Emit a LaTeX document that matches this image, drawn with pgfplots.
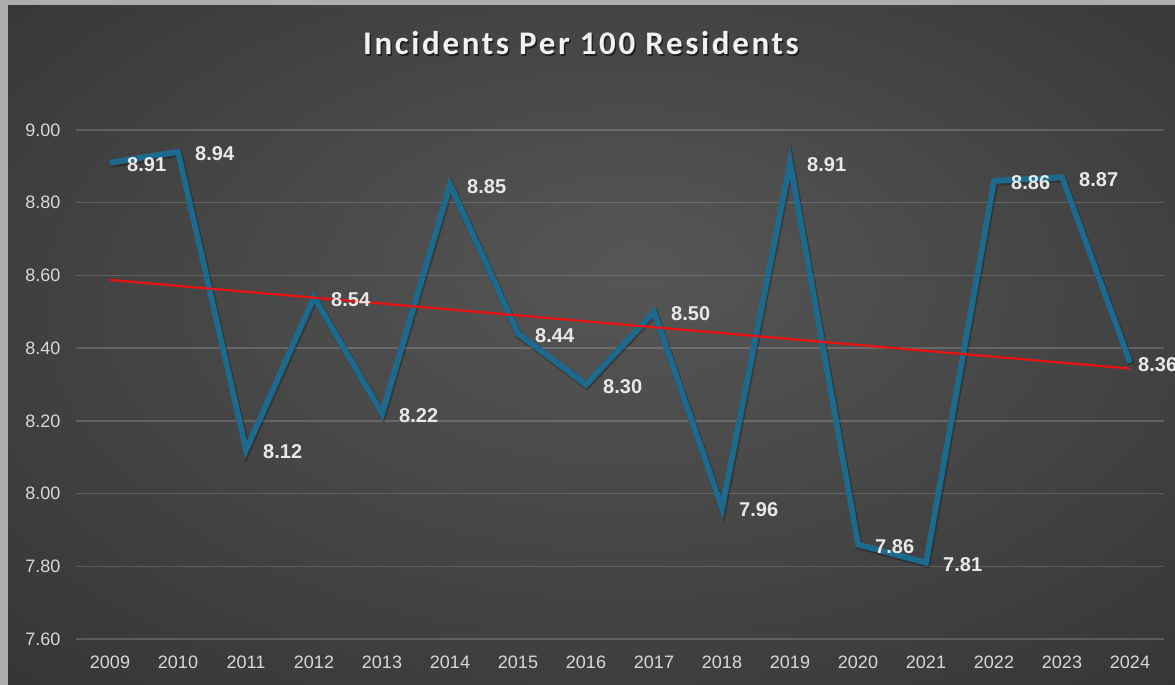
\documentclass[border=0pt]{standalone}
\usepackage{fontspec}
\setmainfont{Liberation Sans}
\newfontfamily\titlefont[LetterSpace=8]{Carlito}
\usepackage{pgfplots}
\pgfplotsset{compat=1.18}
\definecolor{bgdark}{HTML}{2A2A2A}
\definecolor{bglight}{HTML}{565656}
\definecolor{framegray}{HTML}{ADADAD}
\definecolor{lineblue}{HTML}{1C6A8E}
\definecolor{txt}{HTML}{D9D9D9}
\definecolor{lblcol}{HTML}{E8E8E8}
\definecolor{trend}{HTML}{EE1111}
\pgfdeclareradialshading{bgshade}{\pgfpoint{2bp}{6bp}}{color(0bp)=(bglight); color(50bp)=(bgdark)}
\pgfplotstableread{
x y
0 8.91
1 8.94
2 8.12
3 8.54
4 8.22
5 8.85
6 8.44
7 8.30
8 8.50
9 7.96
10 8.91
11 7.86
12 7.81
13 8.86
14 8.87
15 8.36
}\datatable
\pgfplotstableread{
x y
0 8.91
1 8.94
2 8.12
3 8.54
4 8.22
5 8.85
6 8.44
7 8.30
8 8.50
9 7.96
10 8.91
11 7.86
12 7.81
13 8.86
14 8.87
}\labeltable
\pgfplotstableread{
x y
15 8.36
}\lasttable
\begin{document}
\begin{tikzpicture}[x=1pt,y=1pt]
\useasboundingbox (0,0) rectangle (1175,685);
\clip (0,0) rectangle (1175,685);
\fill[framegray] (0,0) rectangle (1175,685);
\shade[shading=bgshade] (8,0) rectangle (1175,679);
\node[anchor=base, text=black, opacity=0.55] at (582.5,628.5) {\titlefont\fontsize{33}{36}\selectfont\bfseries Incidents Per 100 Residents};
\node[anchor=base, text=white!95!black] at (581,630) {\titlefont\fontsize{33}{36}\selectfont\bfseries Incidents Per 100 Residents};
\begin{axis}[
  at={(76pt,46pt)}, anchor=south west,
  width=1088pt, height=509pt, scale only axis,
  xmin=-0.5, xmax=15.5, ymin=7.6, ymax=9.0,
  axis line style={draw=none},
  major tick length=0pt,
  ytick={7.6,7.8,8.0,8.2,8.4,8.6,8.8,9.0},
  xtick={0,1,...,15},
  xticklabels={2009,2010,2011,2012,2013,2014,2015,2016,2017,2018,2019,2020,2021,2022,2023,2024},
  /pgf/number format/assume math mode=true,
  yticklabel={\pgfmathprintnumber[fixed,fixed zerofill,precision=2]{\tick}},
  tick label style={font=\fontsize{18}{20}\selectfont, text=txt},
  yticklabel style={anchor=east, xshift=-12pt},
  xticklabel style={anchor=north, yshift=-13pt},
  ymajorgrids,
  grid style={white, opacity=0.17, line width=1.3pt},
  clip=false,
]
\addplot[black, opacity=0.25, line width=7pt, xshift=1pt, yshift=-1.5pt, forget plot] table[x=x,y=y] {\datatable};
\addplot[lineblue, line width=5.8pt] table[x=x,y=y] {\datatable};
\addplot[draw=none, forget plot,
  nodes near coords={\pgfmathprintnumber[fixed,fixed zerofill,precision=2]{\pgfplotspointmeta}},
  point meta=explicit,
  every node near coord/.style={anchor=west, inner sep=2pt, text=lblcol, font=\fontsize{20}{22}\selectfont\bfseries, xshift=15pt, yshift=-2pt}
] table[x=x,y=y,meta=y] {\labeltable};
\addplot[draw=none, forget plot,
  nodes near coords={\pgfmathprintnumber[fixed,fixed zerofill,precision=2]{\pgfplotspointmeta}},
  point meta=explicit,
  every node near coord/.style={anchor=west, inner sep=2pt, text=lblcol, font=\fontsize{20}{22}\selectfont\bfseries, xshift=6pt, yshift=-2pt}
] table[x=x,y=y,meta=y] {\lasttable};
\addplot[trend, line width=2.2pt] coordinates {(0,8.5875) (15,8.3438)};
\end{axis}
\end{tikzpicture}
\end{document}
